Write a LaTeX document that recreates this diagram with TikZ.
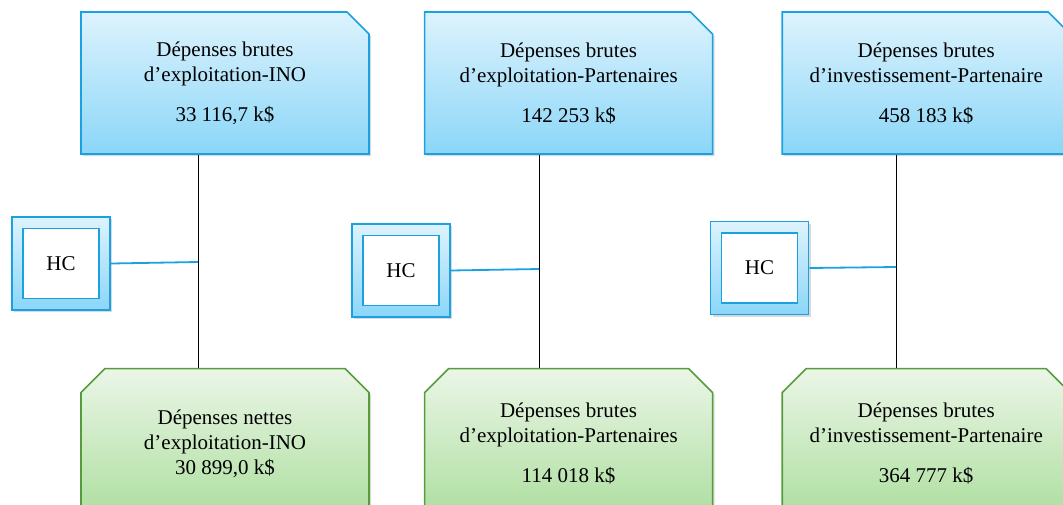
\documentclass[tikz,border=0pt]{standalone}
\usepackage{fontspec}
\setmainfont{Liberation Serif}
\usetikzlibrary{shapes.misc, shadows, positioning, calc}

\definecolor{boxblue}{RGB}{27,161,226}
\definecolor{blueTop}{RGB}{221,243,253}
\definecolor{blueBot}{RGB}{139,214,248}
\definecolor{boxgreen}{RGB}{86,156,60}
\definecolor{greenTop}{RGB}{235,246,231}
\definecolor{greenBot}{RGB}{172,222,158}

\begin{document}
\begin{tikzpicture}[x=1pt, y=-1pt, font=\fontsize{21}{25}\selectfont,
    shade/.style = {drop shadow={shadow xshift=2pt, shadow yshift=-2pt, opacity=0.3}},
    gross/.style = {chamfered rectangle, chamfered rectangle corners=north east,
        chamfered rectangle xsep=11pt, chamfered rectangle ysep=11pt,
        draw=boxblue, line width=1.6pt, top color=blueTop, bottom color=blueBot,
        minimum width=288pt, minimum height=142pt, inner sep=0pt, align=center, shade},
    net/.style = {chamfered rectangle, chamfered rectangle corners={north west, north east},
        chamfered rectangle xsep=12pt, chamfered rectangle ysep=12pt,
        draw=boxgreen, line width=1.6pt, top color=greenTop, bottom color=greenBot,
        minimum width=288pt, minimum height=150pt, inner sep=0pt, align=center, shade},
    hcout/.style = {draw=boxblue, line width=1.8pt, top color=blueTop, bottom color=blueBot,
        minimum width=98pt, minimum height=93pt, shade},
    hcin/.style = {draw=boxblue, line width=1.8pt, fill=white,
        minimum width=76pt, minimum height=70pt},
    trunk/.style = {black, line width=1pt},
    branch/.style = {boxblue, line width=1.8pt}]
    \useasboundingbox (0,0) rectangle (1063,504);
    \clip (0,0) rectangle (1063,504);
    % top row
    \node[gross] (top1) at (225,83) {Dépenses brutes\\d’exploitation-INO\\[15pt]33 116,7 k\$};
    \node[gross] (top2) [right=54pt of top1] {Dépenses brutes\\d’exploitation-Partenaires\\[15pt]142 253 k\$};
    \node[gross] (top3) [right=68pt of top2] {Dépenses brutes\\d’investissement-Partenaire\\[15pt]458 183 k\$};
    % bottom row
    \node[net] (bot1) [below=213pt of top1] {Dépenses nettes\\d’exploitation-INO\\30 899,0 k\$};
    \node[net] (bot2) [below=213pt of top2] {Dépenses brutes\\d’exploitation-Partenaires\\[15pt]114 018 k\$};
    \node[net] (bot3) [below=213pt of top3] {Dépenses brutes\\d’investissement-Partenaire\\[15pt]364 777 k\$};
    % HC boxes
    \node[hcout] (hc1) at (61,263.5) {};
    \node[hcin] (hc1in) at (hc1) {HC};
    \node[hcout] (hc2) at (401,270.5) {};
    \node[hcin] (hc2in) at (hc2) {HC};
    \node[hcout] (hc3) at (759.5,268) {};
    \node[hcin] (hc3in) at (hc3) {HC};
    % junctions
    \coordinate (j1) at (198,262);
    \coordinate (j2) at (539,269);
    \coordinate (j3) at (896,267);
    \draw[trunk] (top1.south -| j1) -- (bot1.north -| j1);
    \draw[trunk] (top2.south -| j2) -- (bot2.north -| j2);
    \draw[trunk] (top3.south -| j3) -- (bot3.north -| j3);
    \draw[branch] (hc1.east) -- (j1);
    \draw[branch] (hc2.east) -- (j2);
    \draw[branch] (hc3.east) -- (j3);
\end{tikzpicture}
\end{document}
